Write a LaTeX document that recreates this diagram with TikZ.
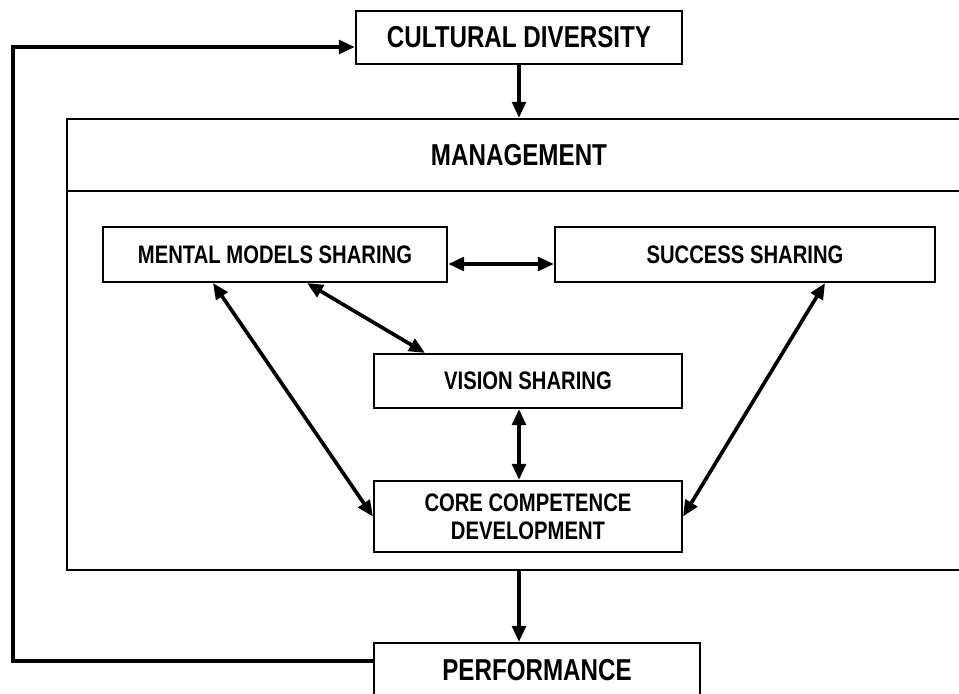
\documentclass[tikz,border=0pt]{standalone}
\usepackage{fontspec}
\setmainfont{Liberation Sans}[FakeStretch=0.8]
\usepackage{tikz}
\usetikzlibrary{arrows.meta,positioning}
\newcommand{\bigtxt}{\fontsize{21.5}{24}\selectfont\bfseries}
\newcommand{\smalltxt}{\fontsize{18}{20}\selectfont\bfseries}

\begin{document}
\begin{tikzpicture}[x=0.025cm, y=-0.025cm,
  box/.style={draw, line width=1.5pt, inner sep=0pt, align=center},
  bigbox/.style={box, font=\bigtxt},
  smallbox/.style={box, font=\smalltxt},
  arr/.style={line width=2.6pt, -{Triangle[length=0.4cm, width=0.34cm]}},
  darr/.style={line width=2.6pt, {Triangle[length=0.4cm, width=0.34cm]}-{Triangle[length=0.4cm, width=0.34cm]}}]
\useasboundingbox (0,0) rectangle (959,694);
\clip (0,0) rectangle (959,694);
\node (mgmt) [box, minimum width=22.6cm, minimum height=11.275cm] at (519,344.5) {};
\node (mgmthead) [font=\bigtxt] at (519,155) {MANAGEMENT};
\draw[line width=1.5pt] (67,191) -- (971,191);
\node (cult) [bigbox, minimum width=8.15cm, minimum height=1.325cm] at (519,37.5) {CULTURAL DIVERSITY};
\node (mental) [smallbox, minimum width=8.6cm, minimum height=1.375cm] at (275,254.5) {MENTAL MODELS SHARING};
\node (success) [smallbox, minimum width=9.5cm, minimum height=1.375cm] at (745,254.5) {SUCCESS SHARING};
\node (vision) [smallbox, minimum width=7.7cm, minimum height=1.35cm] at (528,381) {VISION SHARING};
\node (core) [smallbox, minimum width=7.7cm, minimum height=1.775cm] at (528,516.5) {CORE COMPETENCE\\DEVELOPMENT};
\node (perf) [bigbox, minimum width=8.15cm, minimum height=1.35cm] at (537,670) {PERFORMANCE};
\coordinate (fbin) at ([yshift=0.225cm]perf.west);
\coordinate (fbout) at ([yshift=-0.2375cm]cult.west);
\coordinate (loop) at (13,0);
\draw[arr] (cult.south) -- (cult.south |- mgmt.north);
\draw[arr] (cult.south |- mgmt.south) -- (cult.south |- perf.north);
\draw[darr] ([yshift=-0.2375cm]mental.east) -- ([yshift=-0.2375cm]success.west);
\draw[darr] ([xshift=0.8cm]mental.south) -- ([xshift=-2.575cm]vision.north);
\draw[darr] ([xshift=-1.55cm]mental.south) -- (core.west);
\draw[darr] ([xshift=2cm]success.south) -- (core.east);
\draw[darr] (cult.south |- vision.south) -- (cult.south |- core.north);
\draw[arr] (fbin) -- (fbin -| loop) |- (fbout);
\end{tikzpicture}
\end{document}
